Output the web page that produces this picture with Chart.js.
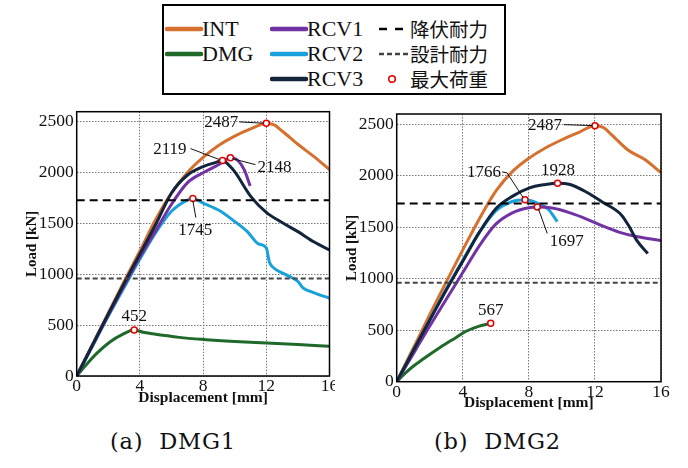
<!DOCTYPE html>
<html><head><meta charset="utf-8">
<script src="https://cdn.jsdelivr.net/npm/chart.js@4/dist/chart.umd.min.js"></script>
<style>
html,body{margin:0;padding:0;background:#fff;}
body{width:688px;height:468px;position:relative;overflow:hidden;font-family:"Liberation Serif",serif;}
canvas{position:absolute;}
#lg{position:absolute;left:162px;top:4px;width:344px;height:91px;border:2px solid #000;box-sizing:border-box;}
.li{position:absolute;font-family:"Liberation Serif",serif;font-size:22px;line-height:22px;color:#111;white-space:nowrap;}
.lj{font-family:"Noto Sans CJK JP",sans-serif;font-size:19.5px;line-height:20px;}
.sw{position:absolute;}
.cap{position:absolute;top:429px;font-family:"DejaVu Serif",serif;font-size:22.5px;line-height:24px;letter-spacing:0.8px;white-space:pre;color:#111;}
#fontwarm{position:absolute;left:-999px;top:0;font-family:"Liberation Serif";}
</style></head>
<body>
<canvas id="c1" width="335" height="310" style="left:0;top:100px"></canvas>
<canvas id="c2" width="348" height="316" style="left:340px;top:100px"></canvas>
<div id="lg"></div>
<div id="legendItems"></div>
<div id="caps"></div>
<div id="fontwarm">0123 <b>Load</b></div>
<script>
// ---------- data ----------
const SERIES_NAMES = ['INT', 'DMG', 'RCV1', 'RCV2', 'RCV3'];
const REF_NAMES = ['降伏耐力', '設計耐力'];
const PEAK_NAME = '最大荷重';
const CAPTIONS = ['(a)  DMG1', '(b)  DMG2'];
const X_TICKS = [0, 4, 8, 12, 16];
const Y_TICKS = [0, 500, 1000, 1500, 2000, 2500];
const X_TITLE = 'Displacement [mm]';
const Y_TITLE = 'Load [kN]';
const YIELD_LOAD = 1730;
const DESIGN_LOAD = 960;

// DMG1 panel
const DMG1_INT  = [[0,0],[1,310],[2,620],[3,930],[4,1230],[5,1540],[6,1800],[7,2000],[8,2150],[9,2270],[10,2360],[11,2430],[12,2487],[12.5,2470],[13,2410],[14,2280],[15,2160],[16,2030]];
const DMG1_DMG  = [[0,0],[0.6,110],[1.25,220],[2.1,335],[2.9,410],[3.64,452],[4.2,430],[4.8,415],[6.5,380],[8,360],[10,340],[12,325],[14,310],[16,292]];
const DMG1_RCV1 = [[0,0],[1,300],[2,600],[3,890],[4,1170],[5,1430],[6,1690],[7,1900],[8,2000],[9,2080],[9.73,2148],[10.2,2120],[10.6,2030],[10.98,1870]];
const DMG1_RCV2 = [[0,0],[1,295],[2,590],[3,870],[4,1150],[5,1410],[6,1620],[7,1730],[7.35,1745],[8,1700],[9,1630],[10,1520],[10.8,1420],[11.5,1300],[12,1260],[12.2,1120],[12.5,1060],[13.2,1000],[14,930],[14.3,870],[15,820],[16,765]];
const DMG1_RCV3 = [[0,0],[1,305],[2,610],[3,910],[4,1200],[5,1490],[6,1800],[7,1975],[8,2060],[9,2110],[9.23,2119],[9.6,2080],[10,2010],[11,1770],[12,1610],[13,1510],[14,1420],[15,1320],[16,1240]];
const DMG1_PEAKS = [[12,2487],[3.64,452],[9.73,2148],[7.35,1745],[9.23,2119]];

// DMG2 panel
const DMG2_INT  = [[0,0],[1,325],[2,650],[3,970],[4,1280],[5,1580],[6,1850],[7,2040],[8,2170],[9,2270],[10,2350],[11,2420],[12,2487],[12.5,2470],[13,2400],[14,2250],[15,2160],[16,2030]];
const DMG2_DMG  = [[0,0],[0.5,80],[1,150],[1.6,220],[2.6,330],[3.6,430],[4.2,490],[5,540],[5.69,567]];
const DMG2_RCV1 = [[0,0],[1,270],[2,540],[3,800],[4,1060],[5,1320],[6,1530],[7,1640],[8,1690],[8.51,1697],[9.5,1685],[10.5,1640],[11.5,1580],[12.5,1510],[13.5,1450],[14.5,1410],[16,1370]];
const DMG2_RCV2 = [[0,0],[1,300],[2,600],[3,900],[4,1180],[5,1450],[6,1660],[7,1750],[7.77,1766],[8.5,1735],[9.2,1670],[9.72,1555]];
const DMG2_RCV3 = [[0,0],[1,300],[2,600],[3,890],[4,1170],[5,1450],[6,1680],[7,1800],[8,1880],[9,1915],[9.74,1928],[10.5,1915],[11.5,1840],[12.5,1740],[13.6,1620],[14.1,1500],[14.5,1380],[15.2,1245]];
const DMG2_PEAKS = [[12,2487],[5.69,567],[8.51,1697],[7.77,1766],[9.74,1928]];

// ---------- styles ----------
const COLORS = ['#D6702E', '#1F6A2B', '#7133A3', '#1AA1DC', '#12253D'];
const ORDERS = [5, 6, 3, 4, 2];
const SERIF = "'Liberation Serif', 'Times New Roman', serif";

function ds(series) {
  return series.map((s, i) => ({
    label: SERIES_NAMES[i],
    data: s.map(p => ({x: p[0], y: p[1]})),
    borderColor: COLORS[i], backgroundColor: COLORS[i],
    borderWidth: 3, pointRadius: 0, fill: false,
    cubicInterpolationMode: 'monotone', order: ORDERS[i]
  }));
}

const framePlugin = {
  id: 'frame',
  afterDraw(chart, args, opts) {
    const {ctx, chartArea: a, scales} = chart;
    ctx.save();
    ctx.strokeStyle = '#000'; ctx.lineWidth = 1.5;
    ctx.strokeRect(a.left, a.top, a.right - a.left, a.bottom - a.top);
    const peaks = opts.peaks, labels = opts.labels;
    ctx.font = '17px ' + SERIF;
    ctx.fillStyle = '#111'; ctx.strokeStyle = '#111'; ctx.lineWidth = 1;
    labels.forEach(l => {
      const p = peaks[l.i];
      const px = scales.x.getPixelForValue(p[0]);
      const py = scales.y.getPixelForValue(p[1]);
      if (l.leader) {
        ctx.beginPath();
        l.leader.forEach((q, k) => { if (k === 0) ctx.moveTo(px + q[0], py + q[1]); else ctx.lineTo(px + q[0], py + q[1]); });
        ctx.stroke();
      }
      ctx.textAlign = l.align; ctx.textBaseline = 'middle';
      ctx.fillText(String(p[1]), px + l.dx, py + l.dy);
    });
    ctx.restore();
  }
};

function makeChart(id, series, peaks, labels, geo) {
  const datasets = ds(series);
  datasets.push({label: REF_NAMES[0], data: [{x: X_TICKS[0], y: YIELD_LOAD}, {x: X_TICKS[X_TICKS.length-1], y: YIELD_LOAD}],
    borderColor: '#000', borderWidth: 2, borderDash: [8, 5], pointRadius: 0, fill: false, order: 1});
  datasets.push({label: REF_NAMES[1], data: [{x: X_TICKS[0], y: DESIGN_LOAD}, {x: X_TICKS[X_TICKS.length-1], y: DESIGN_LOAD}],
    borderColor: '#444', borderWidth: 2, borderDash: [5, 3], pointRadius: 0, fill: false, order: 1});
  datasets.push({label: PEAK_NAME, data: peaks.map(p => ({x: p[0], y: p[1]})), showLine: false,
    pointRadius: 3, pointBorderWidth: 1.5, pointBorderColor: '#E00000', pointBackgroundColor: '#fff', order: 0});
  const tickFont = {family: SERIF, size: 17.5};
  return new Chart(document.getElementById(id), {
    type: 'line',
    data: {datasets},
    options: {
      responsive: false, animation: false, devicePixelRatio: 1,
      layout: {padding: geo.pad},
      plugins: {legend: {display: false}, tooltip: {enabled: false}, frame: {peaks, labels}},
      scales: {
        x: {type: 'linear', min: X_TICKS[0], max: X_TICKS[X_TICKS.length-1],
          afterBuildTicks: s => { s.ticks = X_TICKS.map(v => ({value: v})); },
          ticks: {font: tickFont, color: '#111', padding: 0, maxRotation: 0, autoSkip: false, callback: v => String(v)},
          grid: {color: '#777', lineWidth: 1, drawTicks: false},
          border: {display: false, dash: [1.5, 1.5]},
          title: {display: true, text: X_TITLE, font: {family: SERIF, size: 15.5, weight: 'bold'}, color: '#111', padding: {top: 0, bottom: geo.xtb}},
          afterFit: s => { s.height = geo.xh; s.paddingLeft = 0; s.paddingRight = 0; }
        },
        y: {type: 'linear', min: 0, max: 2600,
          afterBuildTicks: s => { s.ticks = Y_TICKS.map(v => ({value: v})); },
          ticks: {font: tickFont, color: '#111', padding: 3, autoSkip: false, callback: v => String(v)},
          grid: {color: '#777', lineWidth: 1, drawTicks: false},
          border: {display: false, dash: [1.5, 1.5]},
          title: {display: true, text: Y_TITLE, font: {family: SERIF, size: 15, weight: 'bold'}, color: '#111', padding: {top: geo.ytp, bottom: 0}},
          afterFit: s => { s.width = geo.yw; s.paddingTop = 0; s.paddingBottom = 0; }
        }
      }
    },
    plugins: [framePlugin]
  });
}

// annotation placement (pixel offsets from each peak marker)
const LABELS1 = [
  {i: 0, dx: -28, dy: -0.5, align: 'right', leader: [[-27, -1.3], [-3, 0]]},
  {i: 4, dx: -36, dy: -11, align: 'right', leader: [[-32, -12], [-3, -1]]},
  {i: 2, dx: 27, dy: 10, align: 'left', leader: [[2, 1], [25, 7]]},
  {i: 3, dx: 2.5, dy: 32, align: 'center', leader: [[0, 2], [3, 19]]},
  {i: 1, dx: 0, dy: -14, align: 'center'}
];
const LABELS2 = [
  {i: 0, dx: -33, dy: 0, align: 'right', leader: [[-31, -1], [-2.5, 0]]},
  {i: 3, dx: -24, dy: -27, align: 'right', leader: [[-23, -28], [-18, -27], [-2, -2.5]]},
  {i: 4, dx: 0.5, dy: -13, align: 'center'},
  {i: 2, dx: 12.5, dy: 35, align: 'left', leader: [[1, 1.5], [10, 26.5]]},
  {i: 1, dx: 0, dy: -13, align: 'center'}
];

function drawAll() {
  makeChart('c1', [DMG1_INT, DMG1_DMG, DMG1_RCV1, DMG1_RCV2, DMG1_RCV3], DMG1_PEAKS, LABELS1,
    {pad: {left: 0, top: 11.7, right: 2.7, bottom: 0}, yw: 76.7, xh: 34, ytp: 23.5, xtb: 2.4});
  makeChart('c2', [DMG2_INT, DMG2_DMG, DMG2_RCV1, DMG2_RCV2, DMG2_RCV3], DMG2_PEAKS, LABELS2,
    {pad: {left: 0, top: 14, right: 27, bottom: 0}, yw: 56.7, xh: 34.3, ytp: 3.5, xtb: 3.7});
}

// ---------- legend (HTML) ----------
const li = document.getElementById('legendItems');
const rows = [28.5, 53.5, 79];
function addLine(x, y, color, dash, w) {
  const s = document.createElementNS('http://www.w3.org/2000/svg', 'svg');
  s.setAttribute('width', 40); s.setAttribute('height', 10);
  s.setAttribute('class', 'sw');
  s.style.left = (x - 2) + 'px'; s.style.top = (y - 5) + 'px';
  s.innerHTML = `<line x1="2" y1="5" x2="${2 + w}" y2="5" stroke="${color}" stroke-width="${dash ? 2.5 : 4.5}" stroke-linecap="${dash ? 'butt' : 'round'}" ${dash ? `stroke-dasharray="${dash}"` : ''}/>`;
  li.appendChild(s);
}
function addText(x, y, t, cjk) {
  const d = document.createElement('div');
  d.className = 'li' + (cjk ? ' lj' : '');
  d.textContent = t;
  d.style.left = x + 'px'; d.style.top = (y - (cjk ? 10 : 11)) + 'px';
  li.appendChild(d);
}
const pos = [[167, rows[0]], [167, rows[1]], [272, rows[0]], [272, rows[1]], [272, rows[2]]];
SERIES_NAMES.forEach((n, i) => { addLine(pos[i][0], pos[i][1], COLORS[i], null, 34); addText(pos[i][0] + 35, pos[i][1], n, false); });
addLine(379, rows[0], '#000', '8,8', 30); addText(410, rows[0], REF_NAMES[0], true);
addLine(379, rows[1], '#444', '5,3', 30); addText(410, rows[1], REF_NAMES[1], true);
(function(){
  const s = document.createElementNS('http://www.w3.org/2000/svg', 'svg');
  s.setAttribute('width', 12); s.setAttribute('height', 12); s.setAttribute('class', 'sw');
  s.style.left = '386px'; s.style.top = (rows[2] - 6) + 'px';
  s.innerHTML = '<circle cx="6" cy="6" r="3.3" fill="#fff" stroke="#E00000" stroke-width="1.6"/>';
  li.appendChild(s);
})();
addText(410, rows[2], PEAK_NAME, true);

// captions
const caps = document.getElementById('caps');
[[110, CAPTIONS[0]], [434, CAPTIONS[1]]].forEach(c => {
  const d = document.createElement('div'); d.className = 'cap';
  d.style.left = c[0] + 'px'; d.textContent = c[1]; caps.appendChild(d);
});

Promise.all([
  document.fonts.load('17px "Liberation Serif"'),
  document.fonts.load('bold 15px "Liberation Serif"')
]).then(drawAll, drawAll);
</script>
</body></html>
